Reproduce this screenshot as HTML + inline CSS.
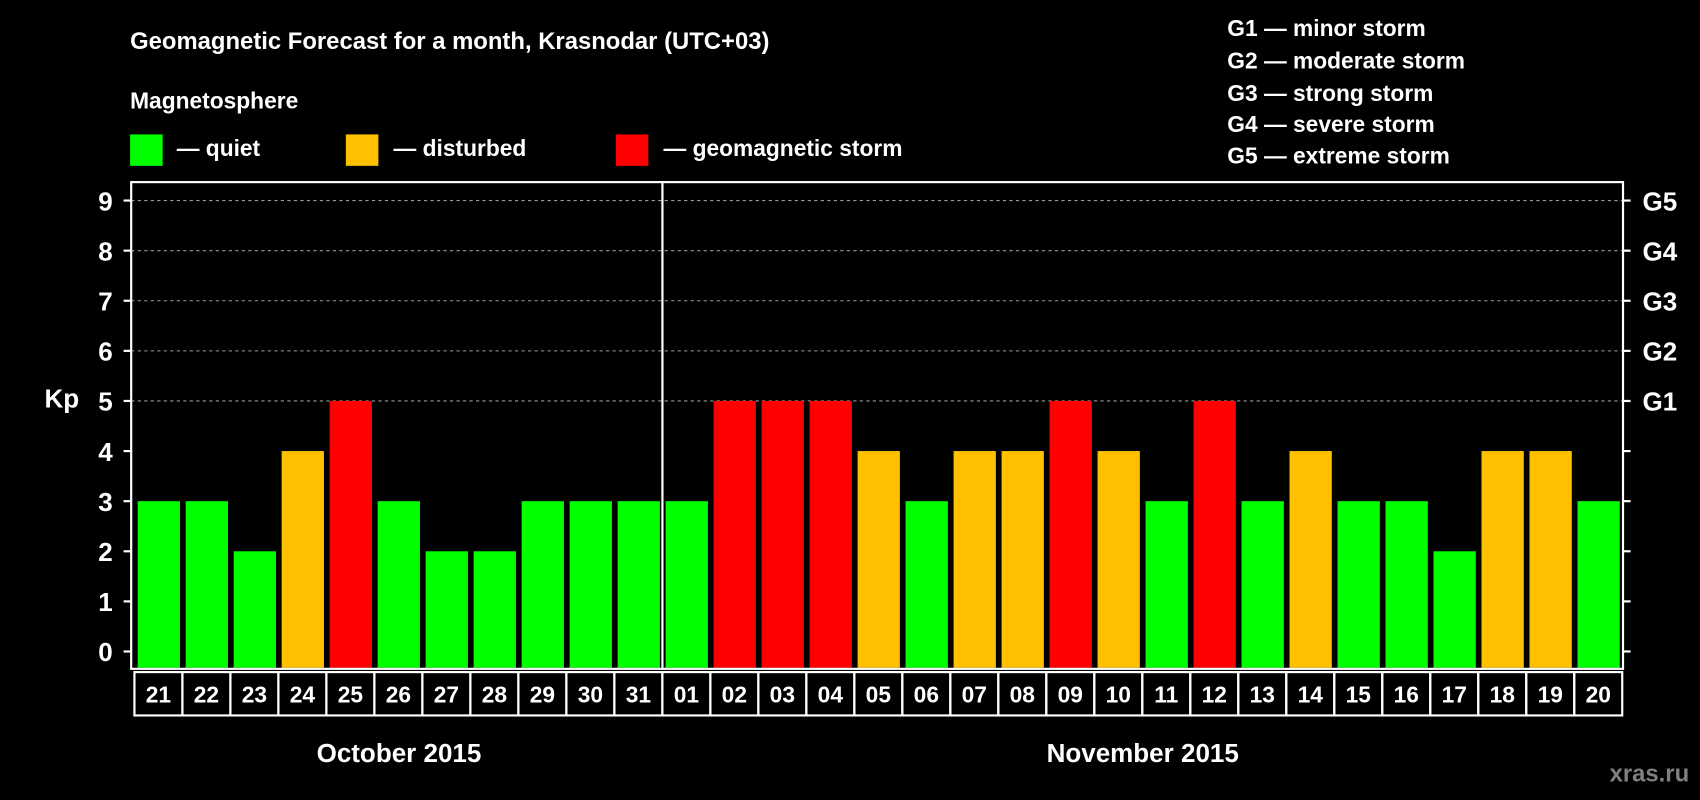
<!DOCTYPE html>
<html><head><meta charset="utf-8"><style>
html,body{margin:0;padding:0;background:#000;}
svg{display:block;font-family:"Liberation Sans",Arial,sans-serif;font-weight:bold;}
</style></head><body>
<svg id="chart" width="1700" height="800" viewBox="0 0 1568 738" preserveAspectRatio="none" xmlns="http://www.w3.org/2000/svg">
<rect x="0" y="0" width="1568" height="738" fill="#000"/>
<text x="120" y="45" fill="#fff" font-size="22">Geomagnetic Forecast for a month, Krasnodar (UTC+03)</text>
<text x="120" y="100" fill="#fff" font-size="21">Magnetosphere</text>
<g><rect x="120" y="124" width="30" height="29" fill="#00ff00"/><text x="163" y="144" fill="#fff" font-size="21">— quiet</text></g>
<g><rect x="319" y="124" width="30" height="29" fill="#ffc000"/><text x="363" y="144" fill="#fff" font-size="21">— disturbed</text></g>
<g><rect x="568" y="124" width="30" height="29" fill="#ff0000"/><text x="612" y="144" fill="#fff" font-size="21">— geomagnetic storm</text></g>
<g fill="#fff" font-size="21">
<text x="1132" y="33">G1 — minor storm</text>
<text x="1132" y="63">G2 — moderate storm</text>
<text x="1132" y="93">G3 — strong storm</text>
<text x="1132" y="122">G4 — severe storm</text>
<text x="1132" y="151">G5 — extreme storm</text>
</g>
<text x="57" y="376" fill="#fff" font-size="24" text-anchor="middle">Kp</text>
<g id="grid"></g>
<g id="bars"></g>
<g id="labels"></g>
<rect x="121" y="168" width="1376" height="449" fill="none" stroke="#fff" stroke-width="2"/>
<line x1="611" y1="168" x2="611" y2="617" stroke="#fff" stroke-width="2"/>
<text x="368" y="703" fill="#fff" font-size="24" text-anchor="middle">October 2015</text>
<text x="1054" y="703" fill="#fff" font-size="24" text-anchor="middle">November 2015</text>
<text x="1558" y="721" fill="#808080" font-size="22" text-anchor="end">xras.ru</text>
</svg>
<script>
const days=["21","22","23","24","25","26","27","28","29","30","31","01","02","03","04","05","06","07","08","09","10","11","12","13","14","15","16","17","18","19","20"];
const kpValues=[3,3,2,4,5,3,2,2,3,3,3,3,5,5,5,4,3,4,4,5,4,3,5,3,4,3,3,2,4,4,3];
const yTicks=[0,1,2,3,4,5,6,7,8,9];
const gLabels=["G1","G2","G3","G4","G5"];
const NS="http://www.w3.org/2000/svg";
const y0=601,unit=(601-185)/9,x0=127,pitch=(1455-127)/30,bw=39;
function yS(v){return y0-v*unit;}
function xS(i){return x0+i*pitch;}
function mk(t,a,p){const e=document.createElementNS(NS,t);for(const k in a)e.setAttribute(k,a[k]);p.appendChild(e);return e;}
const grid=document.getElementById('grid'),bars=document.getElementById('bars'),labels=document.getElementById('labels');
yTicks.forEach(v=>{
  const y=yS(v);
  if(v>=5){const l=mk('line',{x1:121,x2:1497,y1:y,y2:y,stroke:'#999','stroke-dasharray':'3,3','stroke-width':1},grid);
  
  }
  mk('line',{x1:114,x2:121,y1:y,y2:y,stroke:'#fff','stroke-width':2},grid);
  mk('line',{x1:1497,x2:1504,y1:y,y2:y,stroke:'#fff','stroke-width':2},grid);
  const t=mk('text',{x:104,y:y+9,fill:'#fff','font-size':24,'text-anchor':'end'},grid);
  t.textContent=v;
  
  
  if(v>=5){const g=mk('text',{x:1515,y:y+9,fill:'#fff','font-size':24},grid);
  g.textContent=gLabels[v-5];
  
  }
});
kpValues.forEach((v,i)=>{
  const c=v>=5?'#ff0000':(v>=4?'#ffc000':'#00ff00');
  const r=mk('rect',{x:xS(i),y:yS(v),width:bw,height:yS(0)-yS(v)+15,fill:c},bars);
  
  
  const b=mk('rect',{x:xS(i)-3,y:620,width:pitch,height:40,fill:'none',stroke:'#fff','stroke-width':2},labels);
  
  
  const t=mk('text',{x:xS(i)-3+pitch/2,y:648,fill:'#fff','font-size':21,'text-anchor':'middle'},labels);
  t.textContent=days[i];
  
  
});
</script>
</body></html>
